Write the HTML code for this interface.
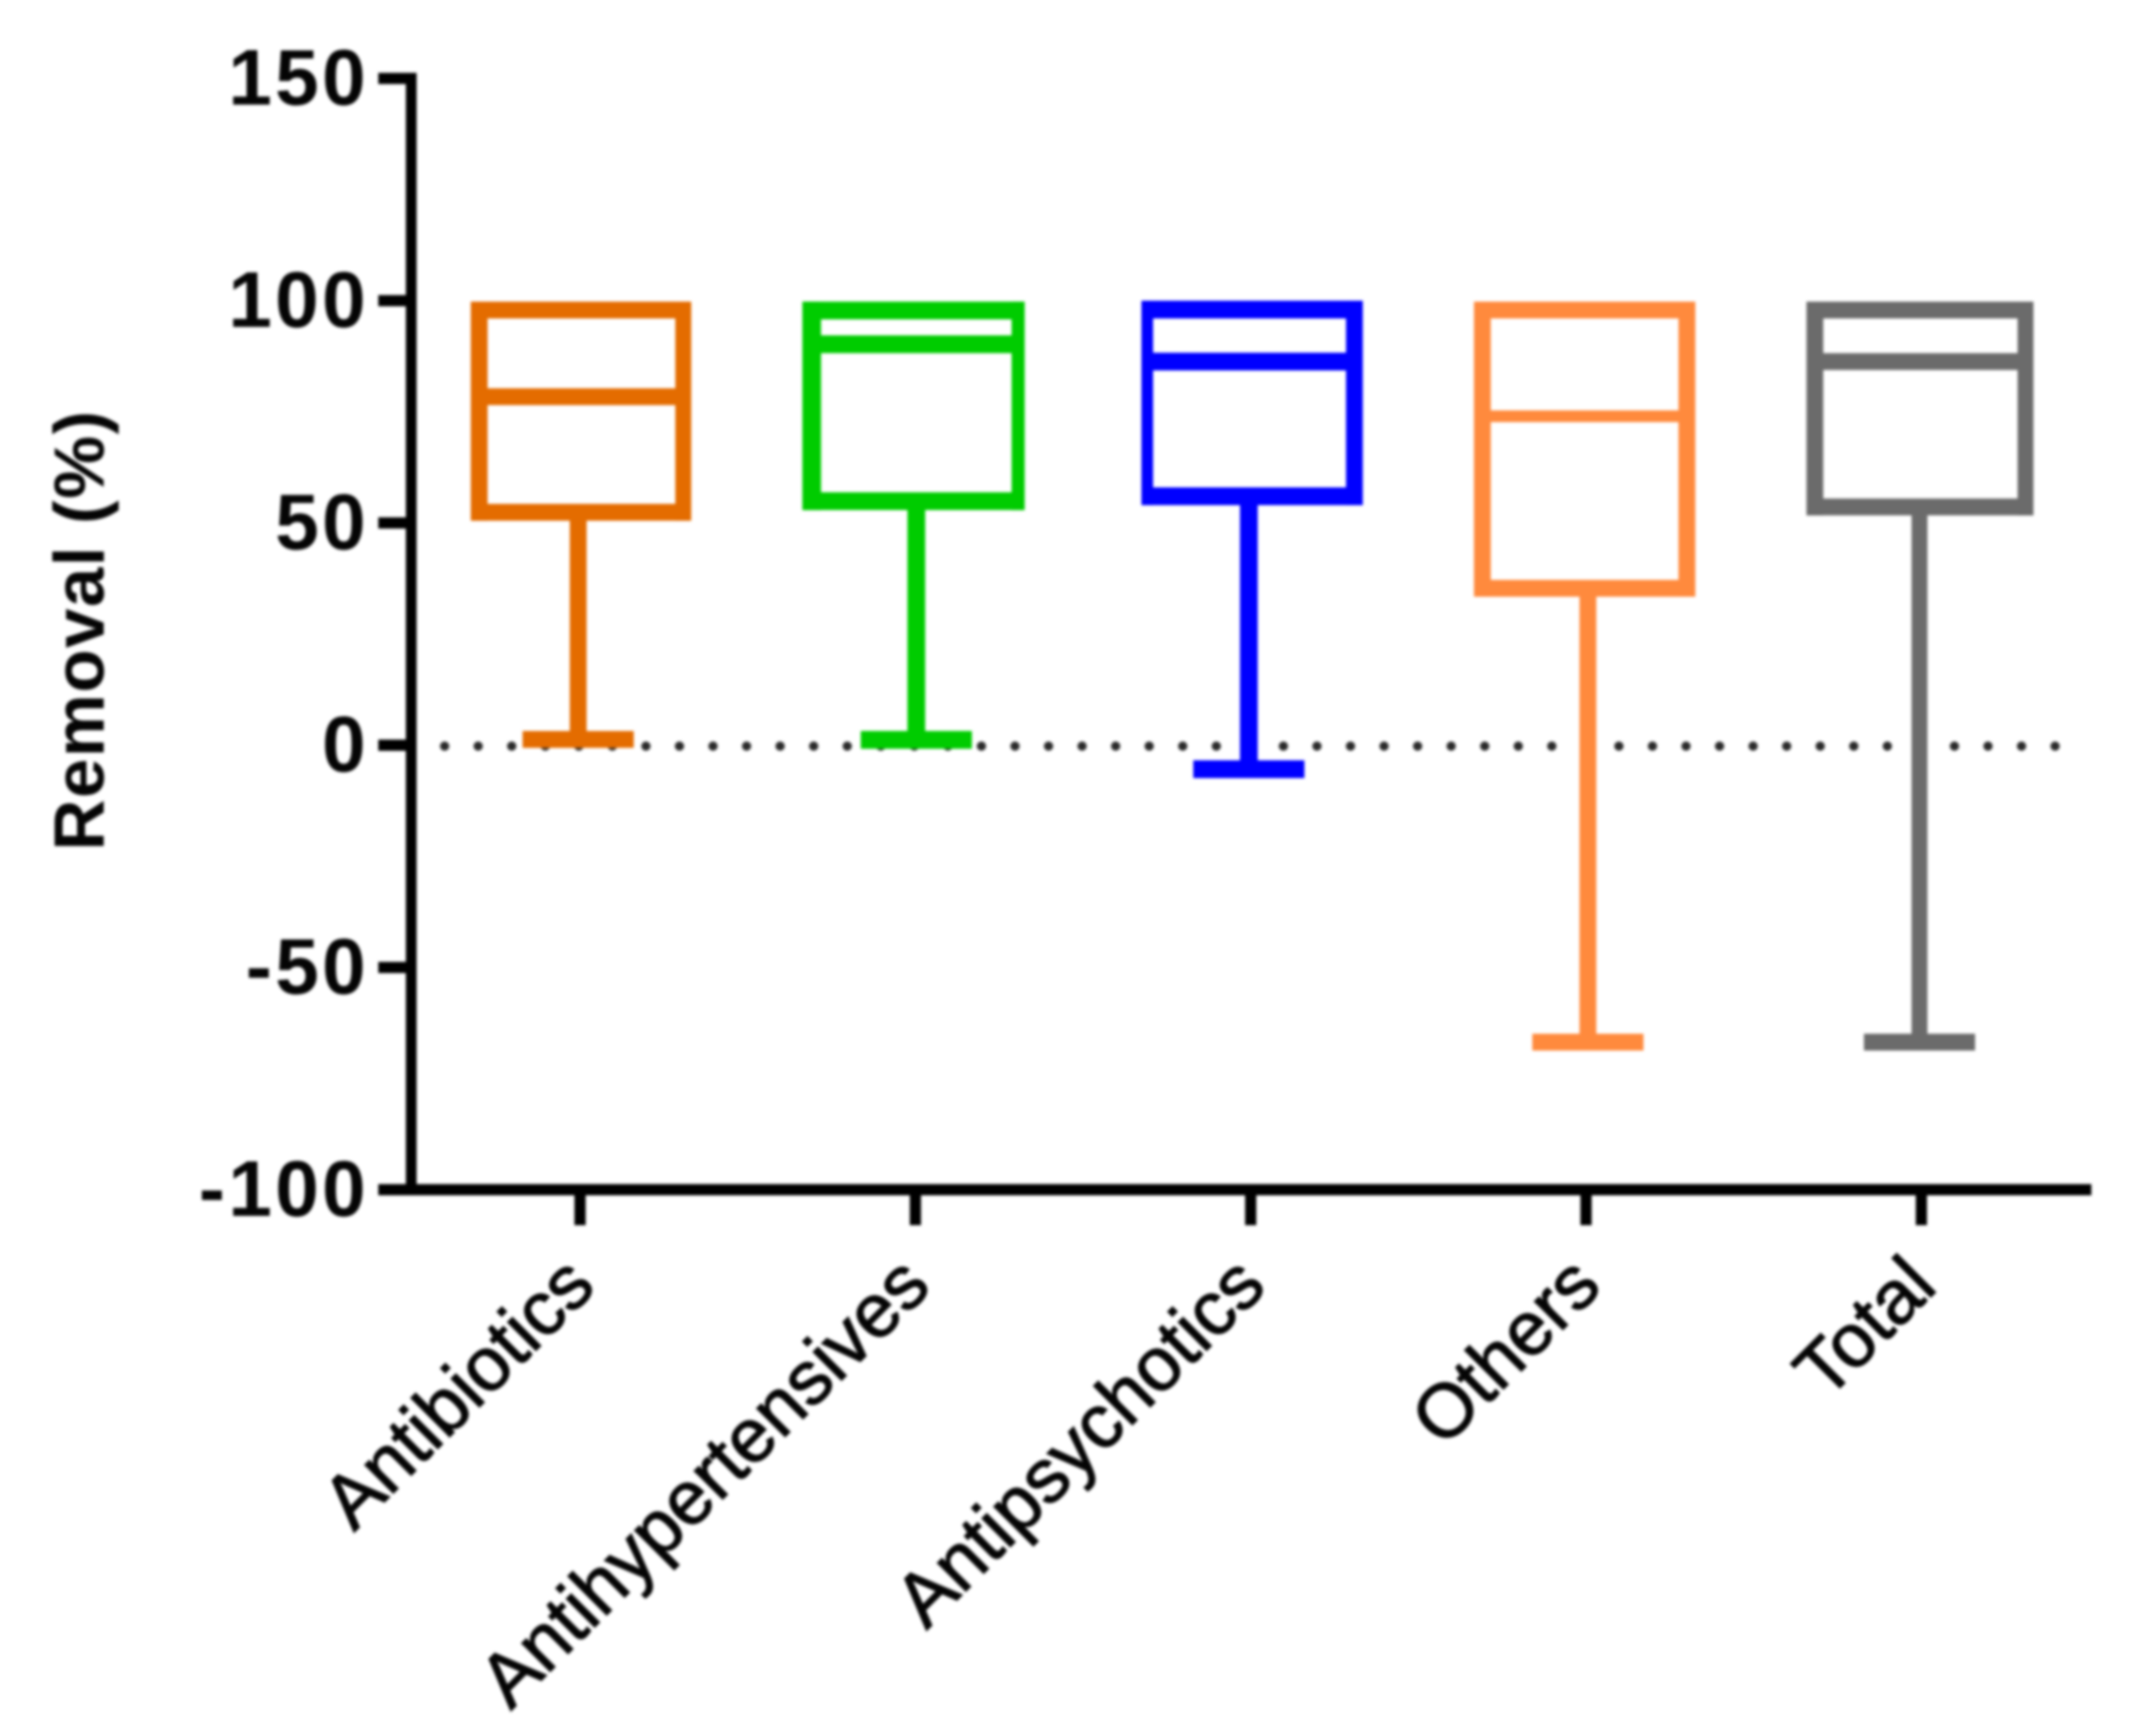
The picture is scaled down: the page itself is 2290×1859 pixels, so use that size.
<!DOCTYPE html>
<html lang="en">
<head>
<meta charset="utf-8">
<title>Removal box plot</title>
<style>
html,body{margin:0;padding:0;background:#fff;}
#chart{display:block;width:2290px;height:1859px;filter:blur(1.5px);}
text{font-family:"Liberation Sans",Arial,sans-serif;fill:#050505;}
</style>
</head>
<body>
<svg id="chart" xmlns="http://www.w3.org/2000/svg" width="2290" height="1859" viewBox="0 0 2290 1859"></svg>
<script>
// Chart data
const categories = ['Antibiotics', 'Antihypertensives', 'Antipsychotics', 'Others', 'Total'];
const q3Values = [97.9, 97.8, 98, 97.9, 97.9];
const medianValues = [78.4, 90.2, 86.3, 74, 86.3];
const q1Values = [52.4, 54.9, 56, 35.3, 53.6];
const minValues = [1.3, 1.2, -5.4, -66.8, -66.8];
const yTickValues = [150, 100, 50, 0, -50, -100];
const yTickLabels = ['150', '100', '50', '0', '-50', '-100'];
const referenceValue = 0;

// Series styling
const seriesColors = ['#E46C00', '#00CC00', '#0000FF', '#FF8A3D', '#6B6B6B'];
const leftWidths = [18, 20, 12.5, 18, 18];
const rightWidths = [17, 14, 18, 18, 17];
const edgeWidths = [18, 19, 19, 18, 18];
const medianWidths = [18, 19, 19, 12.5, 18];
const whiskerWidths = [18, 19, 19, 18, 17];
const boxWidths = [236, 238, 237, 237, 243];
const boxNudges = [1, -2, 1.5, -1.5, -1.5];
const whiskerNudges = [-2, 1, -2, 2, -2];

// Axis functions
function yScale(v) { return 798 - 4.76 * v; }
function xScale(i) { return 621 + 359 * i; }

const NS = 'http://www.w3.org/2000/svg';
const svg = document.getElementById('chart');

function make(tag, attrs, parent) {
  const node = document.createElementNS(NS, tag);
  for (const k in attrs) node.setAttribute(k, attrs[k]);
  (parent || svg).appendChild(node);
  return node;
}
function slug(s) { return s.toLowerCase(); }

let el;

// Dotted reference line
el = make('line', {
  x1: 476, x2: 2206,
  y1: yScale(referenceValue) + 1, y2: yScale(referenceValue) + 1,
  stroke: '#2a2a2a', 'stroke-width': 10, 'stroke-linecap': 'round',
  'stroke-dasharray': '0 35.92'
});



// Boxes
categories.forEach(function (cat, i) {
  const name = slug(cat);
  const color = seriesColors[i];
  const cx = xScale(i) + boxNudges[i];
  const wx = xScale(i) + whiskerNudges[i];
  const bw = boxWidths[i];
  const ew = edgeWidths[i];
  const left = cx - bw / 2;
  const top = yScale(q3Values[i]) - ew / 2;
  const bottom = yScale(q1Values[i]) + ew / 2;

  const g = make('g', { fill: color });
  
  

  // whisker stem
  el = make('rect', { x: wx - whiskerWidths[i] / 2, y: bottom - 2, width: whiskerWidths[i], height: yScale(minValues[i]) - bottom + 2 }, g);
  
  

  // whisker cap
  el = make('rect', { x: wx - 59.5, y: yScale(minValues[i]) - ew / 2, width: 119, height: ew }, g);
  
  

  // box edges
  el = make('rect', { x: left, y: top, width: bw, height: ew }, g);
  
  

  el = make('rect', { x: left, y: bottom - ew, width: bw, height: ew }, g);
  
  

  el = make('rect', { x: left, y: top, width: leftWidths[i], height: bottom - top }, g);
  
  

  el = make('rect', { x: left + bw - rightWidths[i], y: top, width: rightWidths[i], height: bottom - top }, g);
  
  

  // median
  el = make('rect', { x: left, y: yScale(medianValues[i]) - medianWidths[i] / 2, width: bw, height: medianWidths[i] }, g);
  
  
});

// Y axis line
el = make('rect', { x: 434.5, y: yScale(150) - 6, width: 11.5, height: yScale(-100) - yScale(150) + 12, fill: '#000' });



// X axis line
el = make('rect', { x: 405, y: yScale(-100) - 6, width: 1834, height: 12, fill: '#000' });



// Y ticks and labels
yTickValues.forEach(function (v, i) {
  el = make('rect', { x: 405, y: yScale(v) - 6, width: 32, height: 12, fill: '#000' });
  
  

  el = make('text', { x: 395, y: yScale(v) + 28, 'text-anchor': 'end', 'font-size': 84, 'font-weight': 700, 'letter-spacing': 3.5 });
  el.textContent = yTickLabels[i];
  
  
});

// X ticks and labels
categories.forEach(function (cat, i) {
  const x = xScale(i);
  el = make('rect', { x: x - 6, y: yScale(-100), width: 12, height: 38, fill: '#000' });
  
  

  const ax = x + 19;
  const ay = 1380;
  el = make('text', {
    x: ax, y: ay, 'text-anchor': 'end', 'font-size': 81,
    stroke: '#050505', 'stroke-width': 1.4,
    transform: 'rotate(-45 ' + ax + ' ' + ay + ')'
  });
  el.textContent = cat;
  
  
});

// Y axis title
el = make('text', {
  x: 111, y: 911, 'text-anchor': 'start', 'font-size': 76, 'font-weight': 700,
  'letter-spacing': 1.5,
  transform: 'rotate(-90 111 911)'
});
el.textContent = 'Removal (%)';


</script>
</body>
</html>
